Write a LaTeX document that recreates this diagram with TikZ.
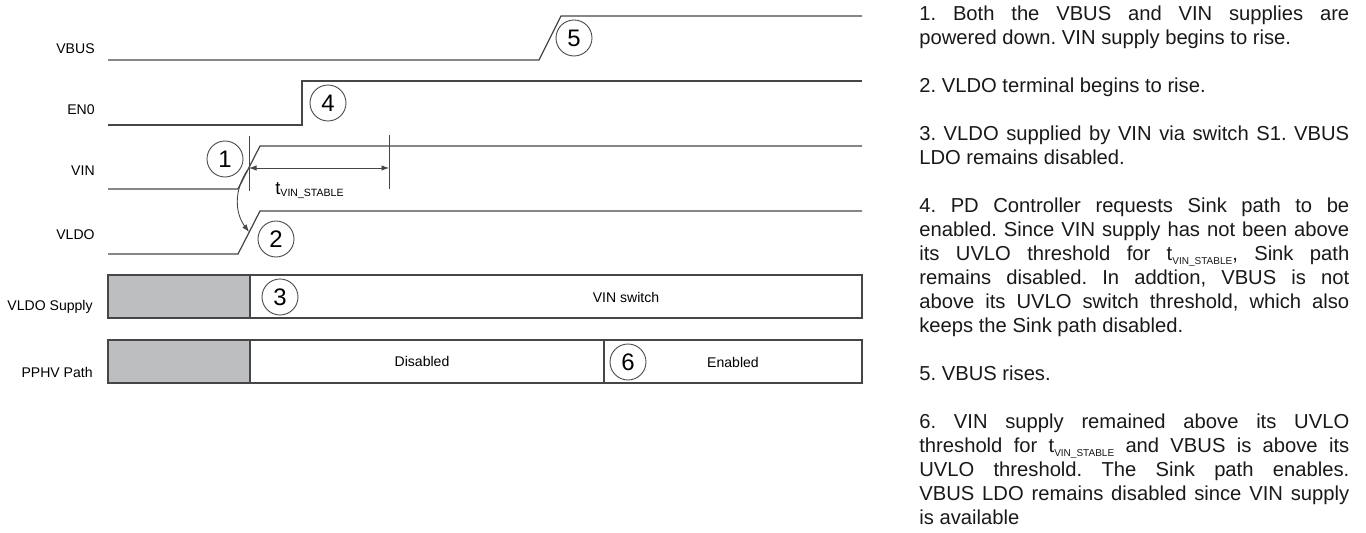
\documentclass[tikz,border=0pt]{standalone}
\usepackage{fontspec}
\setmainfont{Liberation Sans}
\usetikzlibrary{positioning,arrows.meta}

\definecolor{bargray}{RGB}{188,190,192}
\definecolor{inkgray}{RGB}{70,70,72}

\newlength{\notewidth}
\setlength{\notewidth}{8.6cm}
\newcommand{\fullline}[1]{\makebox[\notewidth][s]{#1}}
\newcommand{\tvin}{t\raisebox{-0.3ex}{\fontsize{5.7}{6}\selectfont VIN\_STABLE}}

\begin{document}
\begin{tikzpicture}[
    x=0.02cm, y=-0.02cm,
    signal/.style={draw=inkgray, line width=0.7pt},
    marker/.style={draw=inkgray, line width=0.5pt},
    sigl/.style={anchor=east, inner sep=0pt, font=\fontsize{8}{9.6}\selectfont},
    bartext/.style={inner sep=0pt, font=\fontsize{8}{9.6}\selectfont},
    barbox/.style={draw=inkgray, line width=0.7pt},
    numc/.style={circle, draw=inkgray, line width=0.5pt, minimum size=0.72cm, inner sep=0pt, font=\fontsize{13.6}{14}\selectfont},
    dim/.style={{Latex[length=1.5mm,width=1.1mm]}-{Latex[length=1.5mm,width=1.1mm]}, draw=inkgray, line width=0.5pt},
    note/.style={anchor=north west, inner sep=0pt, text width=\notewidth, align=left, text=black!90, font=\fontsize{11.5}{13.66}\selectfont}
]
\useasboundingbox (0,0) rectangle (1366,533);

% --- Signal names ---
\node[sigl] (lvbus) at (95,49) {VBUS};
\node[sigl] (len) at (95,110) {EN0};
\node[sigl] (lvin) at (95,171) {VIN};
\node[sigl] (lvldo) at (95,235) {VLDO};
\node[sigl] (lsupply) at (93,307) {VLDO Supply};
\node[sigl] (lpath) at (93,372) {PPHV Path};

% --- Waveforms ---
\draw[signal] (108,60) -- (539,60) -- (561,16) -- (862,16);
\draw[signal] (108,125) -- (302,125) -- (302,81) -- (862,81);
\draw[signal] (108,189) -- (238,189) -- (260,146) -- (862,146);
\draw[signal] (108,254) -- (238,254) -- (260,211) -- (862,211);

% --- VIN stable time ---
\coordinate (stA) at (249,168);
\coordinate (stB) at (389,168);
\draw[marker] (249,136) -- (249,191);
\draw[marker] (389,135) -- (389,189);
\draw[dim] (stA) -- (stB);
\node[anchor=base west, inner sep=0pt] (tlab) at (275,195)
    {\fontsize{10.5}{12}\selectfont t\raisebox{-0.15ex}{\fontsize{6}{7}\selectfont VIN\_STABLE}};

% VIN drives VLDO
\coordinate (vinrise) at (247.5,170);
\coordinate (vldorise) at (249,232);
\draw[marker, -{Latex[length=1.5mm,width=1.1mm]}] (vinrise) to[bend right=35] (vldorise);

% --- Supply and path bars ---
\draw[barbox, fill=bargray] (108,275) rectangle (250,318);
\draw[barbox] (250,275) rectangle (862,318);
\draw[barbox, fill=bargray] (108,340) rectangle (250,383);
\draw[barbox] (250,340) rectangle (862,383);
\draw[barbox] (604,340) -- (604,383);
\node[bartext] (vinsw) at (626,297) {VIN switch};
\node[bartext] (dis) at (422,361) {Disabled};
\node[bartext] (ena) at (733,362) {Enabled};

% --- Step numbers ---
\node[numc] (n1) at (225,159) {1};
\node[numc] (n2) at (276,239) {2};
\node[numc] (n3) at (280,297) {3};
\node[numc] (n4) at (328,103) {4};
\node[numc] (n5) at (574,38) {5};
\node[numc] (n6) at (628,362) {6};

% --- Notes ---
\node[note] (notes) at (919,6) {%
\parindent=0pt\spaceskip=0pt\xspaceskip=0pt\frenchspacing
\fullline{1. Both the VBUS and VIN supplies are}\\
powered down. VIN supply begins to rise.\\[13.66pt]
2. VLDO terminal begins to rise.\\[13.66pt]
\fullline{3. VLDO supplied by VIN via switch S1. VBUS}\\
LDO remains disabled.\\[13.66pt]
\fullline{4. PD Controller requests Sink path to be}\\
\fullline{enabled. Since VIN supply has not been above}\\
\fullline{its UVLO threshold for \tvin, Sink path}\\
\fullline{remains disabled. In addtion, VBUS is not}\\
\fullline{above its UVLO switch threshold, which also}\\
keeps the Sink path disabled.\\[13.66pt]
5. VBUS rises.\\[13.66pt]
\fullline{6. VIN supply remained above its UVLO}\\
\fullline{threshold for \tvin{} and VBUS is above its}\\
\fullline{UVLO threshold. The Sink path enables.}\\
\fullline{VBUS LDO remains disabled since VIN supply}\\
is available};

\end{tikzpicture}
\end{document}
